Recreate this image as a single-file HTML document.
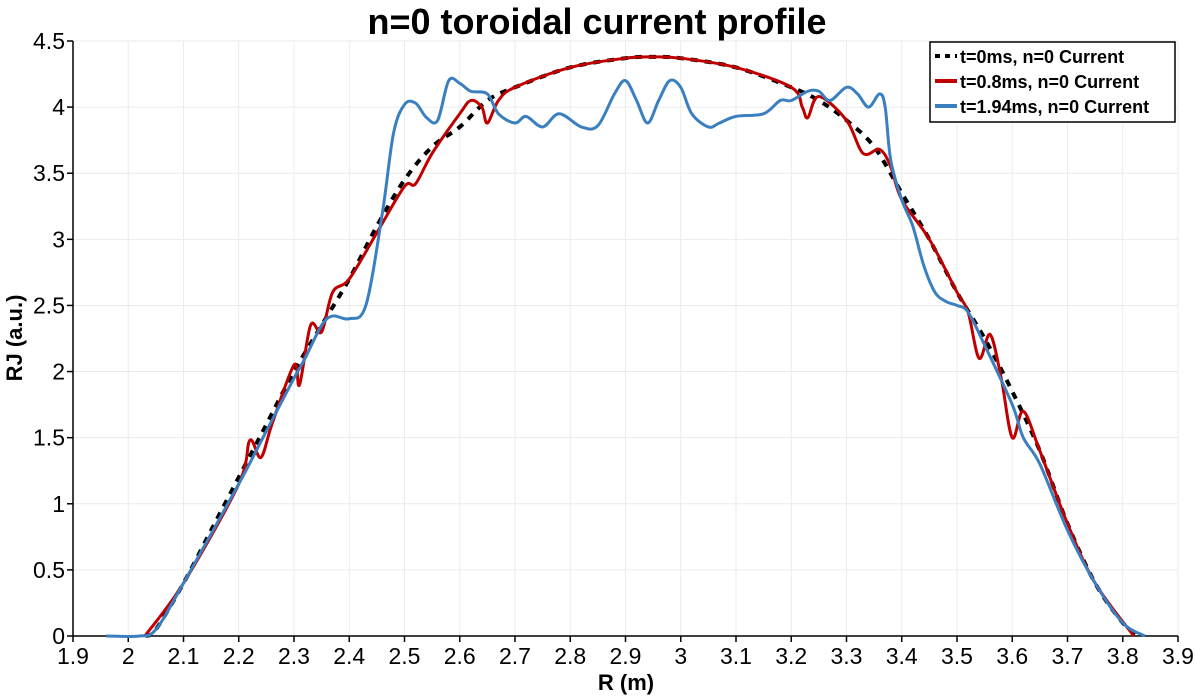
<!DOCTYPE html>
<html><head><meta charset="utf-8"><style>
body{margin:0;background:#fff;}
svg{display:block;font-family:"Liberation Sans",sans-serif;}
</style></head><body>
<svg id="chart" width="1195" height="699">
<text x="597" y="34" text-anchor="middle" font-size="36" font-weight="bold">n=0 toroidal current profile</text>
<g id="grid"></g><g id="axes"></g><g id="series"></g>
<text x="626" y="690" text-anchor="middle" font-size="22" font-weight="bold">R (m)</text>
<text transform="translate(22,338) rotate(-90)" text-anchor="middle" font-size="22" font-weight="bold">RJ (a.u.)</text>
<g>
<rect x="930" y="42" width="245" height="80" fill="#fff" stroke="#000" stroke-width="1.5"/>
<line x1="935" y1="56" x2="957" y2="56" stroke="#000" stroke-width="4" stroke-dasharray="5,5"/>
<text x="960" y="63" font-size="18" font-weight="bold">t=0ms, n=0 Current</text>
<line x1="935" y1="81" x2="957" y2="81" stroke="#c00000" stroke-width="4"/>
<text x="960" y="88" font-size="18" font-weight="bold">t=0.8ms, n=0 Current</text>
<line x1="935" y1="106" x2="957" y2="106" stroke="#3a7fc0" stroke-width="4"/>
<text x="960" y="113" font-size="18" font-weight="bold">t=1.94ms, n=0 Current</text>
</g>
</svg>
<script>
const xTicks=[1.9,2,2.1,2.2,2.3,2.4,2.5,2.6,2.7,2.8,2.9,3,3.1,3.2,3.3,3.4,3.5,3.6,3.7,3.8,3.9];
const yTicks=[0,0.5,1,1.5,2,2.5,3,3.5,4,4.5];
const blackR=[2.03,2.05,2.1,2.15,2.2,2.25,2.3,2.35,2.4,2.45,2.5,2.55,2.6,2.65,2.7,2.8,2.9,2.95,3.0,3.1,3.2,3.25,3.3,3.35,3.4,3.45,3.5,3.55,3.6,3.65,3.7,3.75,3.8,3.83];
const blackV=[0,0.05,0.4,0.8,1.2,1.6,2.0,2.35,2.7,3.1,3.45,3.7,3.85,4.05,4.15,4.3,4.37,4.38,4.37,4.3,4.15,4.05,3.9,3.7,3.35,3.0,2.6,2.25,1.85,1.4,0.85,0.4,0.1,0];
const redR=[2.03,2.1,2.2,2.22,2.24,2.26,2.3,2.31,2.33,2.35,2.37,2.4,2.45,2.5,2.52,2.55,2.6,2.62,2.64,2.65,2.67,2.7,2.8,2.9,2.95,3.0,3.1,3.2,3.22,3.23,3.25,3.3,3.33,3.36,3.38,3.4,3.45,3.5,3.52,3.54,3.56,3.58,3.6,3.62,3.65,3.7,3.75,3.82];
const redV=[0,0.4,1.15,1.48,1.35,1.6,2.05,1.9,2.35,2.3,2.6,2.7,3.05,3.4,3.42,3.65,3.95,4.05,4.0,3.88,4.05,4.15,4.3,4.37,4.38,4.37,4.3,4.15,4.0,3.92,4.08,3.9,3.65,3.68,3.55,3.3,3.0,2.6,2.45,2.1,2.28,1.95,1.5,1.7,1.4,0.85,0.4,0];
const blueR=[1.96,2.02,2.05,2.1,2.2,2.25,2.3,2.32,2.35,2.37,2.4,2.43,2.46,2.48,2.5,2.52,2.54,2.56,2.58,2.6,2.62,2.65,2.67,2.7,2.72,2.75,2.78,2.82,2.85,2.88,2.9,2.92,2.94,2.96,2.98,3.0,3.02,3.05,3.07,3.1,3.15,3.18,3.2,3.23,3.25,3.27,3.3,3.32,3.34,3.36,3.37,3.38,3.4,3.42,3.44,3.46,3.48,3.5,3.52,3.55,3.6,3.62,3.65,3.7,3.75,3.8,3.84];
const blueV=[0,0,0.05,0.4,1.15,1.55,1.95,2.1,2.35,2.42,2.4,2.5,3.2,3.8,4.02,4.03,3.92,3.9,4.2,4.18,4.12,4.1,3.95,3.88,3.93,3.85,3.95,3.85,3.86,4.1,4.2,4.05,3.88,4.05,4.2,4.15,3.95,3.85,3.88,3.93,3.95,4.05,4.05,4.12,4.12,4.05,4.15,4.1,4.0,4.1,4.0,3.6,3.3,3.1,2.8,2.6,2.53,2.5,2.45,2.2,1.75,1.5,1.3,0.8,0.4,0.1,0];
const X0=73,X1=1178,Y0=636,Y1=41;
const xs=v=>X0+(v-1.9)/(3.9-1.9)*(X1-X0);
const ys=v=>Y0-(v/4.5)*(Y0-Y1);
const NS="http://www.w3.org/2000/svg";
function mk(tag,attrs,parent){const e=document.createElementNS(NS,tag);for(const k in attrs)e.setAttribute(k,attrs[k]);parent.appendChild(e);return e;}
const grid=document.getElementById('grid'),axes=document.getElementById('axes'),ser=document.getElementById('series');
xTicks.forEach(t=>{const x=xs(t);
 const g=mk('line',{x1:x,x2:x,y1:Y1,y2:Y0,stroke:'#ebebeb','stroke-width':1},grid);
 
 
 mk('line',{x1:x,x2:x,y1:Y0,y2:Y0+6,stroke:'#000','stroke-width':1.5},axes);
 const l=mk('text',{x:x,y:Y0+28,'text-anchor':'middle','font-size':23},axes);l.textContent=String(t);
 
 
});
yTicks.forEach(t=>{const y=ys(t);
 const g=mk('line',{x1:X0,x2:X1,y1:y,y2:y,stroke:'#ebebeb','stroke-width':1},grid);
 
 
 mk('line',{x1:X0-6,x2:X0,y1:y,y2:y,stroke:'#000','stroke-width':1.5},axes);
 const l=mk('text',{x:X0-8,y:y+8,'text-anchor':'end','font-size':23},axes);l.textContent=String(t);
 
 
});
mk('line',{x1:X0,x2:X1,y1:Y0,y2:Y0,stroke:'#000','stroke-width':1.5},axes);
mk('line',{x1:X0,x2:X0,y1:Y1,y2:Y0,stroke:'#000','stroke-width':1.5},axes);
function path(R,V){
 const P=R.map((r,i)=>[xs(r),ys(V[i])]);
 let d=`M${P[0][0]},${P[0][1]}`;
 for(let i=0;i<P.length-1;i++){
  const p0=P[Math.max(0,i-1)],p1=P[i],p2=P[i+1],p3=P[Math.min(P.length-1,i+2)];
  const c1=[p1[0]+(p2[0]-p0[0])/6,p1[1]+(p2[1]-p0[1])/6];
  const c2=[p2[0]-(p3[0]-p1[0])/6,p2[1]-(p3[1]-p1[1])/6];
  d+=` C${c1[0]},${c1[1]} ${c2[0]},${c2[1]} ${p2[0]},${p2[1]}`;
 }
 return d;}
const pb=mk('path',{d:path(blackR,blackV),fill:'none',stroke:'#000','stroke-width':4,'stroke-dasharray':'7,7'},ser);


const pr=mk('path',{d:path(redR,redV),fill:'none',stroke:'#c00000','stroke-width':3},ser);


const pl=mk('path',{d:path(blueR,blueV),fill:'none',stroke:'#3a7fc0','stroke-width':3},ser);


</script>
</body></html>
